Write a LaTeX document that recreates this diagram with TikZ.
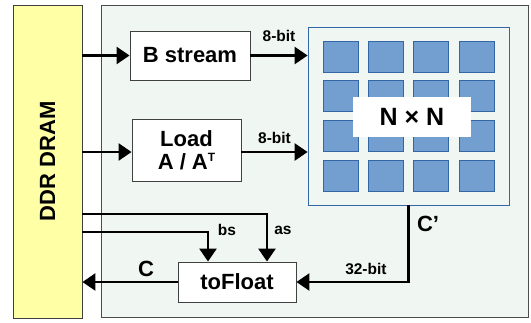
\documentclass[tikz,border=0pt]{standalone}
\usepackage{fontspec}
\setmainfont{Liberation Sans}
\usetikzlibrary{arrows.meta,calc}

\definecolor{dramfill}{HTML}{FFFFA6}
\definecolor{panelfill}{HTML}{F0F7F3}
\definecolor{cellfill}{HTML}{729FCF}
\definecolor{celledge}{HTML}{3465A4}

\tikzset{
  blk/.style={draw=black!75, fill=white, line width=0.9pt, inner sep=0pt,
    font=\bfseries\fontsize{22}{25}\selectfont, align=center},
  arr/.style={line width=2.6pt, -{Triangle[length=13pt,width=17pt]}},
  lbl/.style={font=\bfseries\fontsize{15.5}{18}\selectfont, inner sep=1pt},
  biglbl/.style={font=\bfseries\fontsize{22}{25}\selectfont, inner sep=1pt}
}

\begin{document}
\begin{tikzpicture}[x=1pt,y=-1pt]
    \useasboundingbox (0,0) rectangle (531,322);

    % accelerator panel
    \draw[draw=black!70, fill=panelfill, line width=0.9pt] (101,5) rectangle (528,317);

    % DDR DRAM
    \node[blk, fill=dramfill, minimum width=69pt, minimum height=313pt] (dram) at (47.5,161.5)
        {\rotatebox{90}{DDR DRAM}};

    % input blocks
    \node[blk, minimum width=120pt, minimum height=49pt] (bstream) at (190,55.5) {B stream};
    \node[blk, minimum width=109pt, minimum height=62pt] (load) at (186.5,150)
        {Load\\[-2pt]A / A\raisebox{8pt}{\fontsize{12}{12}\selectfont T}};

    % N x N array
    \node[draw=celledge, fill=panelfill, line width=0.8pt, minimum width=201pt,
        minimum height=178pt] (array) at (408.5,116) {};
    \foreach \i in {0,...,3}
      \foreach \j in {0,...,3}
        \draw[celledge, fill=cellfill, line width=0.8pt]
          (323+45.3*\i,41+39.7*\j) rectangle ++(35,31);
    \node[fill=white, minimum width=118pt, minimum height=40pt,
        font=\bfseries\fontsize{25}{28}\selectfont] (nxn) at (412,117) {N × N};

    % output block
    \node[blk, minimum width=118pt, minimum height=40pt] (tofloat) at (237,282) {toFloat};

    % data paths
    \draw[arr] (dram.east |- bstream.west) -- (bstream.west);
    \draw[arr] (dram.east |- 0,152) -- (load.west |- 0,152);
    \draw[arr] (bstream.east) -- (bstream.east -| array.west)
        node[lbl, midway, above=12pt] {8-bit};
    \draw[arr] (load.east |- 0,152) -- (array.west |- 0,152)
        node[lbl, midway, above=6pt] {8-bit};
    \draw[arr] (dram.east |- 0,214) -| ([xshift=30pt]tofloat.north);
    \draw[arr] (dram.east |- 0,232) -| ([xshift=-29pt]tofloat.north);
    \node[lbl] (bs) at (227,230) {bs};
    \node[lbl] (as) at (283,230) {as};
    \draw[arr] (array.south) |- (tofloat.east)
        node[lbl, pos=0.69, above=5pt] {32-bit};
    \node[biglbl] (cprime) at (428,224) {C’};
    \draw[arr] (tofloat.west) -- (dram.east |- tofloat.west)
        node[biglbl, pos=0.33, above=3pt] {C};
\end{tikzpicture}
\end{document}
